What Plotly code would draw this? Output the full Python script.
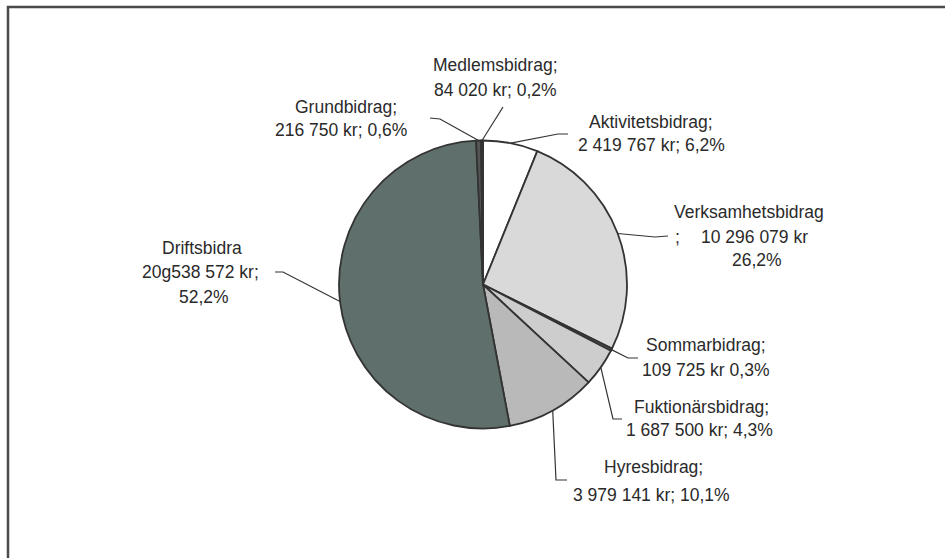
import math
import plotly.graph_objects as go

# ---- data (clockwise from 12 o'clock) ----
categories = ["Aktivitetsbidrag", "Verksamhetsbidrag", "Sommarbidrag", "Fuktionärsbidrag",
              "Hyresbidrag", "Driftsbidrag", "Grundbidrag", "Medlemsbidrag"]
values = [2419767, 10296079, 109725, 1687500, 3979141, 20538572, 216750, 84020]
colors = ["#ffffff", "#d9d9d9", "#555555", "#cdcdcd", "#b9b9b9", "#5f6f6b", "#555555", "#383838"]

# label text lines as printed in the chart
label_lines = {
    "Medlemsbidrag": ["Medlemsbidrag;", "84 020 kr; 0,2%"],
    "Grundbidrag": ["Grundbidrag;", "216 750 kr; 0,6%"],
    "Aktivitetsbidrag": ["Aktivitetsbidrag;", "2 419 767 kr; 6,2%"],
    "Verksamhetsbidrag": ["Verksamhetsbidrag", ";", "10 296 079 kr", "26,2%"],
    "Sommarbidrag": ["Sommarbidrag;", "109 725 kr 0,3%"],
    "Fuktionärsbidrag": ["Fuktionärsbidrag;", "1 687 500 kr; 4,3%"],
    "Hyresbidrag": ["Hyresbidrag;", "3 979 141 kr; 10,1%"],
    "Driftsbidrag": ["Driftsbidra", "20g538 572 kr;", "52,2%"],
}

# ---- layout geometry (pixels) ----
W, H = 945, 558
CX, CY, R = 483, 284.5, 144

def px(x, y):
    return x / W, 1 - y / H

# text line positions (center x, center y) per label line
label_pos = {
    "Medlemsbidrag": [(495, 65), (495, 90)],
    "Grundbidrag": [(346, 107), (341, 130)],
    "Aktivitetsbidrag": [(651, 122), (651, 145)],
    "Verksamhetsbidrag": [(749, 212), (677, 237), (754, 237), (757, 260)],
    "Sommarbidrag": [(706, 345), (705, 370)],
    "Fuktionärsbidrag": [(701, 407), (699, 430)],
    "Hyresbidrag": [(653, 467), (651, 495)],
    "Driftsbidrag": [(202, 248), (200, 272), (204, 297)],
}
# leader line start / elbow points (pixels); the end is on the slice edge
leader_pts = {
    "Medlemsbidrag": [(503, 107)],
    "Grundbidrag": [(430, 118), (440, 119)],
    "Aktivitetsbidrag": [(568, 134), (558, 134)],
    "Verksamhetsbidrag": [(668, 236), (655, 237)],
    "Sommarbidrag": [(638, 358), (628, 358)],
    "Fuktionärsbidrag": [(622, 419), (613, 419)],
    "Hyresbidrag": [(567, 480), (556, 480)],
    "Driftsbidrag": [(275, 272), (283, 272)],
}

x0d, y0d = px(CX - R, CY + R)
x1d, y1d = px(CX + R, CY - R)

fig = go.Figure(go.Pie(
    labels=categories, values=values, sort=False, direction="clockwise", rotation=0,
    marker=dict(colors=colors, line=dict(color="#333333", width=1.8)),
    textinfo="none", hoverinfo="label+value+percent", showlegend=False,
    domain=dict(x=[x0d, x1d], y=[y0d, y1d]),
))

total = sum(values)
cum = 0.0
shapes = []
annotations = []
for cat, v in zip(categories, values):
    mid = (cum + v / 2) / total
    cum += v
    ang = 2 * math.pi * mid
    ex, ey = CX + R * math.sin(ang), CY - R * math.cos(ang)
    pts = leader_pts[cat] + [(ex, ey)]
    path = ""
    for i, (x, y) in enumerate(pts):
        xp, yp = px(x, y)
        path += ("M" if i == 0 else " L") + f"{xp:.5f},{yp:.5f}"
    shapes.append(dict(type="path", path=path, xref="paper", yref="paper",
                       line=dict(color="#333333", width=1.2)))
    for line, (lx, ly) in zip(label_lines[cat], label_pos[cat]):
        xp, yp = px(lx, ly)
        annotations.append(dict(text=line, x=xp, y=yp, xref="paper", yref="paper",
                                xanchor="center", yanchor="middle", showarrow=False,
                                font=dict(family="Liberation Sans, Arial", size=17.5, color="#2a2a2a")))

# outer frame
fx0, fy1 = px(8, 7)
shapes.append(dict(type="rect", xref="paper", yref="paper", x0=fx0, x1=1.02, y0=-0.02, y1=fy1,
                   line=dict(color="#4a4a4a", width=2.5), fillcolor="rgba(0,0,0,0)"))

fig.update_layout(width=W, height=H, margin=dict(l=0, r=0, t=0, b=0),
                  paper_bgcolor="white", plot_bgcolor="white",
                  shapes=shapes, annotations=annotations)
fig.write_html("out.html", config={"displayModeBar": False},
               post_script="document.body.style.margin='0';document.body.style.overflow='hidden';")
